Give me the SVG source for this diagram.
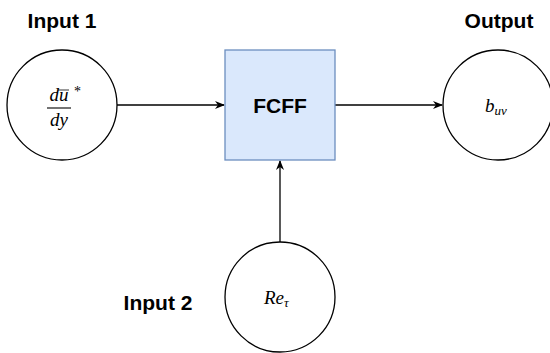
<svg xmlns="http://www.w3.org/2000/svg" width="550" height="353" viewBox="0 0 550 353">
  <style>
    .node { fill: #ffffff; stroke: #000000; stroke-width: 1.3; }
    .box { fill: #dae8fc; stroke: #6c8ebf; stroke-width: 1.3; }
    .label { font-family: "Liberation Sans", Arial, sans-serif; font-weight: bold; font-size: 21px; fill: #000; }
    .math { font-family: "Liberation Serif", "Times New Roman", serif; font-style: italic; font-size: 19px; fill: #000; }
    .edge { stroke: #000; stroke-width: 1.3; fill: none; marker-end: url(#arrow); }
  </style>
  <defs>
    <marker id="arrow" viewBox="0 0 10 10" refX="9" refY="5" markerWidth="10" markerHeight="10" markerUnits="userSpaceOnUse" orient="auto">
      <path d="M0,1 L10,5 L0,9 L3,5 Z" fill="#000"/>
    </marker>
  </defs>

  <rect width="550" height="353" fill="#ffffff"/>

  <g id="connectors">
    <line class="edge" x1="117" y1="105" x2="224" y2="105"/>
    <line class="edge" x1="335" y1="105" x2="442" y2="105"/>
    <line class="edge" x1="280" y1="242" x2="280" y2="161"/>
  </g>

  <g id="input1">
    <text class="label" x="62" y="28" text-anchor="middle">Input 1</text>
    <circle class="node" cx="62" cy="105" r="55"/>
    <text class="math" x="59" y="101" text-anchor="middle">du</text>
    <line x1="58" y1="90" x2="69" y2="90" stroke="#000" stroke-width="0.8"/>
    <text x="74" y="96" font-family="Liberation Serif, serif" font-size="14" fill="#000">*</text>
    <line x1="47" y1="108" x2="71" y2="108" stroke="#000" stroke-width="1.1"/>
    <text class="math" x="59" y="126" text-anchor="middle">dy</text>
  </g>

  <g id="fcff">
    <rect class="box" x="225" y="50" width="110" height="110"/>
    <text class="label" x="280" y="113" text-anchor="middle">FCFF</text>
  </g>

  <g id="output">
    <text class="label" x="499" y="28" text-anchor="middle">Output</text>
    <circle class="node" cx="498" cy="105" r="55"/>
    <text class="math" x="485" y="112">b<tspan font-size="13" dy="3">uv</tspan></text>
  </g>

  <g id="input2">
    <text class="label" x="158" y="310" text-anchor="middle">Input 2</text>
    <circle class="node" cx="280" cy="297" r="55"/>
    <text class="math" x="264" y="304">Re<tspan font-size="13" dy="3">τ</tspan></text>
  </g>
</svg>
